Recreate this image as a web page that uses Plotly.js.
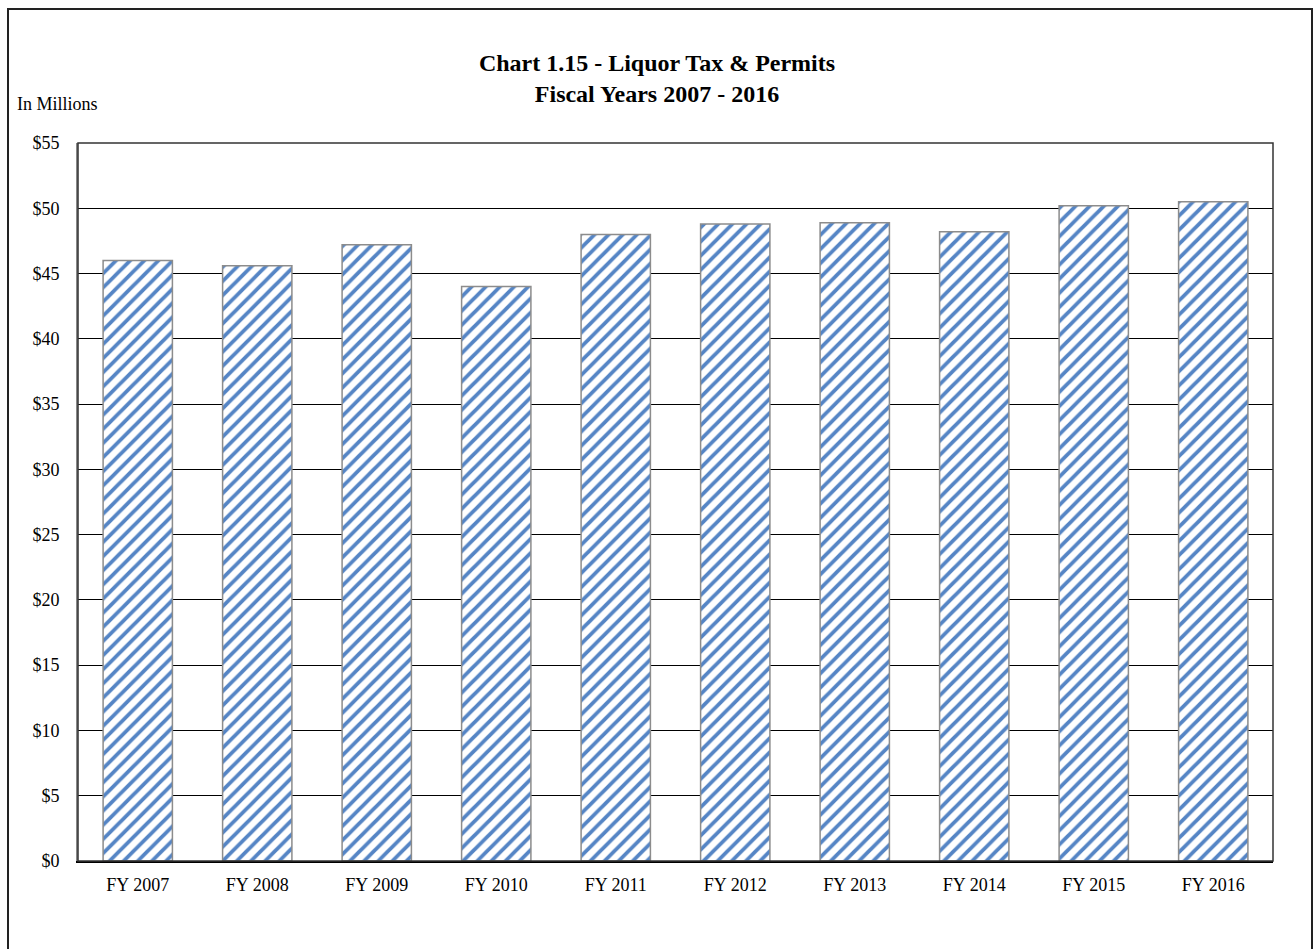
<!DOCTYPE html>
<html>
<head>
<meta charset="utf-8">
<script src="https://cdn.plot.ly/plotly-3.0.1.min.js"></script>
<style>
  html, body { margin:0; padding:0; background:#fff; overflow:hidden; }
  #chart { position:absolute; left:0; top:0; width:1314px; height:949px; }
  #frame { position:absolute; left:7px; top:8px; width:1302px; height:960px; border:2px solid #222; pointer-events:none; }
</style>
</head>
<body>
<div id="chart"></div>
<div id="frame"></div>
<script>
const categories = ["FY 2007","FY 2008","FY 2009","FY 2010","FY 2011","FY 2012","FY 2013","FY 2014","FY 2015","FY 2016"];
const revenue = [46.0, 45.6, 47.2, 44.0, 48.0, 48.8, 48.9, 48.2, 50.2, 50.5];
const yTickVals = [0,5,10,15,20,25,30,35,40,45,50,55];
const yTickText = ["$0","$5","$10","$15","$20","$25","$30","$35","$40","$45","$50","$55"];

const serif = "Liberation Serif, Times New Roman, serif";

const trace = {
  type: 'bar',
  x: categories,
  y: revenue,
  marker: {
    color: '#ffffff',
    line: { color: '#8c8c8c', width: 1.5 },
    pattern: { shape: '/', fgcolor: '#5585C5', bgcolor: '#ffffff', size: 10, solidity: 0.38 }
  },
  hoverinfo: 'x+y'
};

const layout = {
  width: 1314, height: 949,
  margin: { l: 78, r: 41, t: 143, b: 88 },
  paper_bgcolor: '#ffffff',
  plot_bgcolor: '#ffffff',
  bargap: 0.42,
  showlegend: false,
  title: {
    text: '<b>Chart 1.15 - Liquor Tax & Permits<br>Fiscal Years 2007 - 2016</b>',
    font: { family: serif, size: 24, color: '#000' },
    x: 0.5, xref: 'container', xanchor: 'center',
    y: 1 - 71/949, yref: 'container', yanchor: 'top'
  },
  xaxis: {
    type: 'category',
    showgrid: false,
    showline: true, linecolor: '#000', linewidth: 2,
    ticks: '', ticklabelstandoff: 6,
    tickfont: { family: serif, size: 18, color: '#000' },
    fixedrange: true
  },
  yaxis: {
    range: [0, 55],
    tickvals: yTickVals,
    ticktext: yTickText,
    showgrid: true, gridcolor: '#000', gridwidth: 1,
    showline: true, linecolor: '#888', linewidth: 2,
    zeroline: false,
    ticks: '', ticklabelstandoff: 13,
    tickfont: { family: serif, size: 18, color: '#000' },
    fixedrange: true
  },
  shapes: [
    { type: 'rect', xref: 'paper', yref: 'paper', x0: 0, x1: 1, y0: 0, y1: 1,
      line: { color: '#333', width: 1.5 }, layer: 'above' }
  ],
  annotations: [
    { text: 'In Millions', xref: 'paper', yref: 'paper',
      x: (15 - 78) / 1195, y: (861 - 104) / 718, xanchor: 'left', yanchor: 'middle',
      showarrow: false, font: { family: serif, size: 18, color: '#000' } }
  ]
};

Plotly.newPlot('chart', [trace], layout, { displayModeBar: false, staticPlot: true });
</script>
</body>
</html>
